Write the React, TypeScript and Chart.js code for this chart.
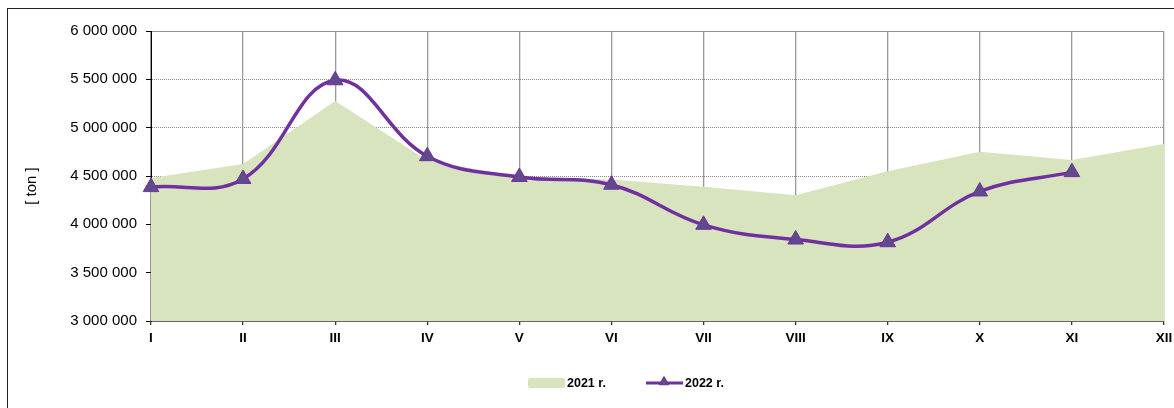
import React, { useEffect, useRef } from 'react';
import { Chart, registerables } from 'chart.js';

Chart.register(...registerables);

const months = ['I', 'II', 'III', 'IV', 'V', 'VI', 'VII', 'VIII', 'IX', 'X', 'XI', 'XII'];
const values2021 = [4480000, 4625000, 5275000, 4660000, 4490000, 4465000, 4390000, 4300000, 4550000, 4750000, 4665000, 4830000];
const values2022 = [4385000, 4470000, 5490000, 4705000, 4490000, 4410000, 3995000, 3843000, 3815000, 4340000, 4540000, null];
const seriesLabels = ['2021 r.', '2022 r.'];
const yTitle = '[ ton ]';
const yMin = 3000000;
const yMax = 6000000;
const yStep = 500000;

const FONT = '"Liberation Sans", Arial, Helvetica, sans-serif';
const AREA_COLOR = '#D7E4BD';
const LINE_COLOR = '#7030A0';
const MARKER_FILL = '#5F4A8B';

const fmt = (v: number) => String(Math.round(v)).replace(/\B(?=(\d{3})+(?!\d))/g, ' ');

const overlayPlugin = {
  id: 'overlay',
  afterDraw(chart: any) {
    const ctx = chart.ctx as CanvasRenderingContext2D;
    const area = chart.chartArea;
    // y axis title
    ctx.save();
    ctx.translate(32, (area.top + area.bottom) / 2 + 10);
    ctx.rotate(-Math.PI / 2);
    ctx.font = `15px ${FONT}`;
    ctx.fillStyle = '#000';
    ctx.textAlign = 'center';
    ctx.textBaseline = 'middle';
    ctx.fillText(yTitle, 0, 0);
    ctx.restore();

    // legend
    const ly = 383;
    ctx.save();
    ctx.fillStyle = AREA_COLOR;
    ctx.beginPath();
    (ctx as any).roundRect ? (ctx as any).roundRect(528, ly - 5, 37, 10, 2) : ctx.rect(528, ly - 5, 37, 10);
    ctx.fill();
    ctx.font = `bold 12.5px ${FONT}`;
    ctx.fillStyle = '#000';
    ctx.textAlign = 'left';
    ctx.textBaseline = 'middle';
    ctx.fillText(seriesLabels[0], 567, ly + 1);

    ctx.strokeStyle = LINE_COLOR;
    ctx.lineWidth = 3;
    ctx.beginPath();
    ctx.moveTo(646, ly);
    ctx.lineTo(683, ly);
    ctx.stroke();
    const r = 5.5;
    const cx = 664;
    const cy = ly - 1;
    ctx.beginPath();
    ctx.moveTo(cx, cy - r);
    ctx.lineTo(cx + r * Math.sin((2 * Math.PI) / 3), cy - r * Math.cos((2 * Math.PI) / 3));
    ctx.lineTo(cx + r * Math.sin((4 * Math.PI) / 3), cy - r * Math.cos((4 * Math.PI) / 3));
    ctx.closePath();
    ctx.fillStyle = MARKER_FILL;
    ctx.fill();
    ctx.lineWidth = 1;
    ctx.stroke();
    ctx.fillStyle = '#000';
    ctx.fillText(seriesLabels[1], 685, ly + 1);
    ctx.restore();
  },
};

export default function App() {
  const canvasRef = useRef<HTMLCanvasElement | null>(null);

  useEffect(() => {
    const canvas = canvasRef.current;
    if (!canvas) return;
    const chart = new Chart(canvas, {
      type: 'line',
      data: {
        labels: months,
        datasets: [
          {
            label: seriesLabels[1],
            data: values2022,
            order: 1,
            borderColor: LINE_COLOR,
            borderWidth: 3.5,
            tension: 0.4,
            fill: false,
            pointStyle: 'triangle',
            pointRadius: 9,
            pointBackgroundColor: MARKER_FILL,
            pointBorderColor: LINE_COLOR,
            pointBorderWidth: 1,
            clip: false as any,
          },
          {
            label: seriesLabels[0],
            data: values2021,
            order: 2,
            borderWidth: 0,
            borderColor: AREA_COLOR,
            backgroundColor: AREA_COLOR,
            fill: 'start',
            tension: 0,
            pointRadius: 0,
          },
        ],
      },
      options: {
        responsive: false,
        animation: false,
        devicePixelRatio: 1,
        layout: { padding: { left: 0, right: 8, top: 31, bottom: 0 } },
        plugins: {
          legend: { display: false },
          tooltip: { enabled: false },
          title: { display: false },
        },
        scales: {
          x: {
            type: 'category',
            offset: false,
            grid: {
              offset: false,
              color: '#999999',
              lineWidth: 1.3,
              tickColor: '#333',
              tickLength: 4,
              drawTicks: true,
            },
            border: { display: true, color: '#666', width: 2 },
            ticks: {
              autoSkip: false,
              maxRotation: 0,
              minRotation: 0,
              padding: 5,
              color: '#000',
              font: { family: FONT, size: 13.5, weight: 'bold' },
            },
            afterFit(scale: any) {
              scale.height = 87;
              scale.paddingLeft = 0;
              scale.paddingRight = 0;
            },
          },
          y: {
            min: yMin,
            max: yMax,
            grid: {
              color: (c: any) => (c.tick && c.tick.value === yMax ? '#909090' : '#8A8A8A'),
              lineWidth: 1,
              tickColor: '#000',
              tickLength: 5,
              tickBorderDash: [],
            },
            border: {
              display: true,
              color: '#000',
              width: 1,
              dash: (c: any) => (c.tick && c.tick.value === yMax ? [] : [1, 1]),
            } as any,
            ticks: {
              stepSize: yStep,
              padding: 9,
              color: '#000',
              font: { family: FONT, size: 15 },
              callback: (v: any) => fmt(Number(v)),
            },
            afterFit(scale: any) {
              scale.width = 151;
              scale.paddingTop = 0;
              scale.paddingBottom = 0;
            },
          },
        },
      },
      plugins: [overlayPlugin],
    });
    return () => chart.destroy();
  }, []);

  return (
    <div style={{ position: 'fixed', left: 0, top: 0, width: 1174, height: 408, overflow: 'hidden', background: '#fff' }}>
      <canvas ref={canvasRef} width={1174} height={408} style={{ position: 'absolute', left: 0, top: 0, width: 1174, height: 408 }} />
      <div
        style={{
          position: 'absolute',
          left: 7,
          top: 8,
          width: 1220,
          height: 500,
          border: '1px solid #222',
          pointerEvents: 'none',
        }}
      />
    </div>
  );
}
